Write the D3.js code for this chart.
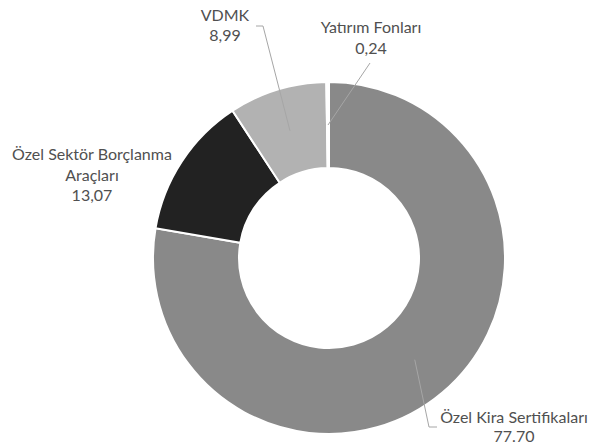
<!DOCTYPE html>
<html>
<head>
<meta charset="utf-8">
<script src="https://cdn.jsdelivr.net/npm/d3@7"></script>
<style>
  body { margin: 0; background: #fff; }
  text { font-family: Lato, "Noto Sans", sans-serif; fill: #505050; }
</style>
</head>
<body>
<div id="chart"></div>
<script>
// data, in drawing order (clockwise from 12 o'clock)
var categories = ["Özel Kira Sertifikaları", "Özel Sektör Borçlanma Araçları", "VDMK", "Yatırım Fonları"];
var values = [77.70, 13.07, 8.99, 0.24];
var valueLabels = ["77.70", "13,07", "8,99", "0,24"];
var labelLines = [["Özel Kira Sertifikaları"], ["Özel Sektör Borçlanma", "Araçları"], ["VDMK"], ["Yatırım Fonları"]];
var colors = ["#898989", "#222222", "#b2b2b2", "#ffffff"];

// label placement (center x, first baseline y, line step) and leader elbow
var labelPos = [
    {x: 514, y: 423, step: 19, elbow: [[429, 427], [437, 427]]},
    {x: 92, y: 160, step: 20.5, elbow: null},
    {x: 225, y: 21, step: 20, elbow: [[263, 26], [256, 26]]},
    {x: 371, y: 33, step: 20.5, elbow: [[370, 63]]}
];

var width = 593, height = 445;
var cx = 329, cy = 258;
var outerR = 176, innerR = 90;

var svg = d3.select("#chart").append("svg")
    .attr("width", width)
    .attr("height", height);

var g = svg.append("g")
    .attr("transform", "translate(" + cx + "," + cy + ")");

var pie = d3.pie().sort(null).value(function (d) { return d; });
var arcs = pie(values);

var arc = d3.arc().innerRadius(innerR).outerRadius(outerR);
var midArc = d3.arc().innerRadius((innerR + outerR) / 2).outerRadius((innerR + outerR) / 2);

g.selectAll("path.slice")
    .data(arcs)
    .enter().append("path")
    .attr("class", "slice")
    .attr("d", arc)
    .attr("fill", function (d, i) { return colors[i]; })
    .attr("stroke", "#fff")
    .attr("stroke-width", 2);

// leader lines
arcs.forEach(function (d, i) {
    var p = labelPos[i];
    if (!p.elbow) return;
    var c = midArc.centroid(d);
    var pts = [[cx + c[0], cy + c[1]]].concat(p.elbow);
    svg.append("path")
        .attr("d", d3.line()(pts))
        .attr("fill", "none")
        .attr("stroke", "#a6a6a6")
        .attr("stroke-width", 1);
});

// labels
arcs.forEach(function (d, i) {
    var p = labelPos[i];
    var lines = labelLines[i].concat([valueLabels[i]]);
    var t = svg.append("text")
        .attr("text-anchor", "middle")
        .style("font-size", "16px");
    lines.forEach(function (s, k) {
        t.append("tspan")
            .attr("x", p.x)
            .attr("y", p.y + k * p.step)
            .text(s);
    });
});
</script>
</body>
</html>
